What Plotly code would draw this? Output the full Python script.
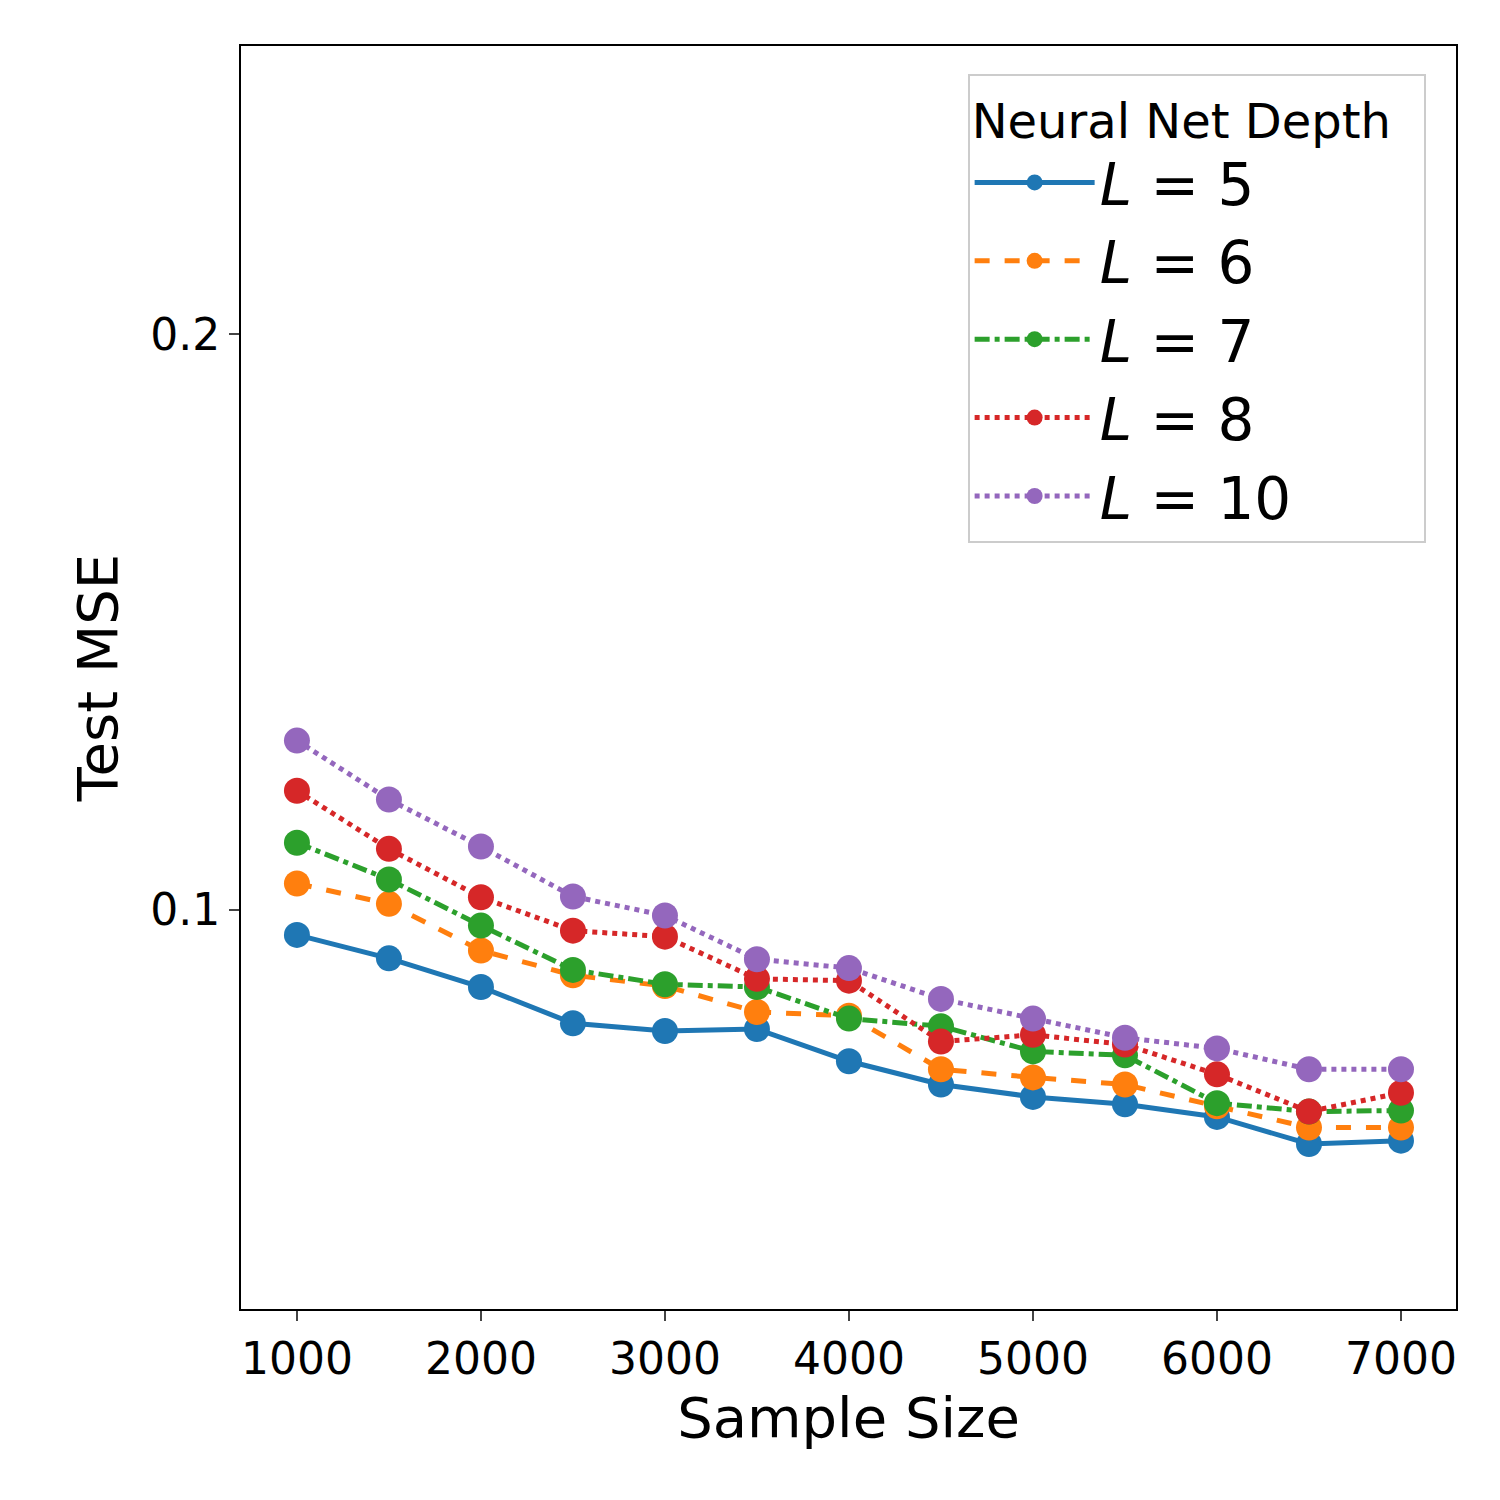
import plotly.graph_objects as go

sample_size = [1000, 1500, 2000, 2500, 3000, 3500, 4000, 4500, 5000, 5500, 6000, 6500, 7000]
mse_l5 = [0.0970, 0.0943, 0.0911, 0.0872, 0.0864, 0.0866, 0.0833, 0.0810, 0.0798, 0.0791, 0.0779, 0.0754, 0.0757]
mse_l6 = [0.1032, 0.1007, 0.0952, 0.0924, 0.0912, 0.0884, 0.0880, 0.0825, 0.0817, 0.0810, 0.0789, 0.0769, 0.0769]
mse_l7 = [0.1084, 0.1037, 0.0981, 0.0930, 0.0914, 0.0911, 0.0877, 0.0869, 0.0843, 0.0839, 0.0792, 0.0784, 0.0785]
mse_l8 = [0.1154, 0.1076, 0.1015, 0.0975, 0.0968, 0.0920, 0.0918, 0.0853, 0.0860, 0.0850, 0.0820, 0.0784, 0.0802]
mse_l10 = [0.1226, 0.1142, 0.1079, 0.1016, 0.0993, 0.0942, 0.0932, 0.0898, 0.0877, 0.0857, 0.0846, 0.0825, 0.0825]

series = [
    ("<i>L</i> = 5", mse_l5, "#1f77b4", "solid"),
    ("<i>L</i> = 6", mse_l6, "#ff7f0e", "dash"),
    ("<i>L</i> = 7", mse_l7, "#2ca02c", "dashdot"),
    ("<i>L</i> = 8", mse_l8, "#d62728", "dot"),
    ("<i>L</i> = 10", mse_l10, "#9467bd", "dot"),
]

fig = go.Figure()
for name, ys, color, dash in series:
    fig.add_trace(go.Scatter(x=sample_size, y=ys, name=name, mode="lines+markers",
                             line=dict(color=color, width=5, dash=dash),
                             marker=dict(size=26, color=color)))

axis_common = dict(showline=True, linecolor="black", linewidth=2, mirror=True,
                   ticks="outside", ticklen=10, tickwidth=2, showgrid=False, zeroline=False,
                   tickfont=dict(size=44, color="black"))
fig.update_layout(
    width=1500, height=1500,
    plot_bgcolor="white", paper_bgcolor="white",
    font=dict(family="DejaVu Sans", color="black"),
    margin=dict(l=233, r=52, t=38, b=199),
    xaxis=dict(range=[696, 7299], tickvals=[1000, 2000, 3000, 4000, 5000, 6000, 7000],
               title=dict(text="Sample Size", font=dict(size=56)), **axis_common),
    yaxis=dict(type="log", range=[-1.209, -0.548], tickvals=[0.1, 0.2], ticktext=["0.1", "0.2"],
               title=dict(text="Test MSE", font=dict(size=56)), **axis_common),
    legend=dict(x=0.975, y=0.978, xanchor="right", yanchor="top",
                title=dict(text="Neural Net Depth  ", font=dict(size=48)),
                font=dict(size=58), bordercolor="#cccccc", borderwidth=2,
                itemwidth=120, tracegroupgap=0),
)
fig.write_html("out.html")
